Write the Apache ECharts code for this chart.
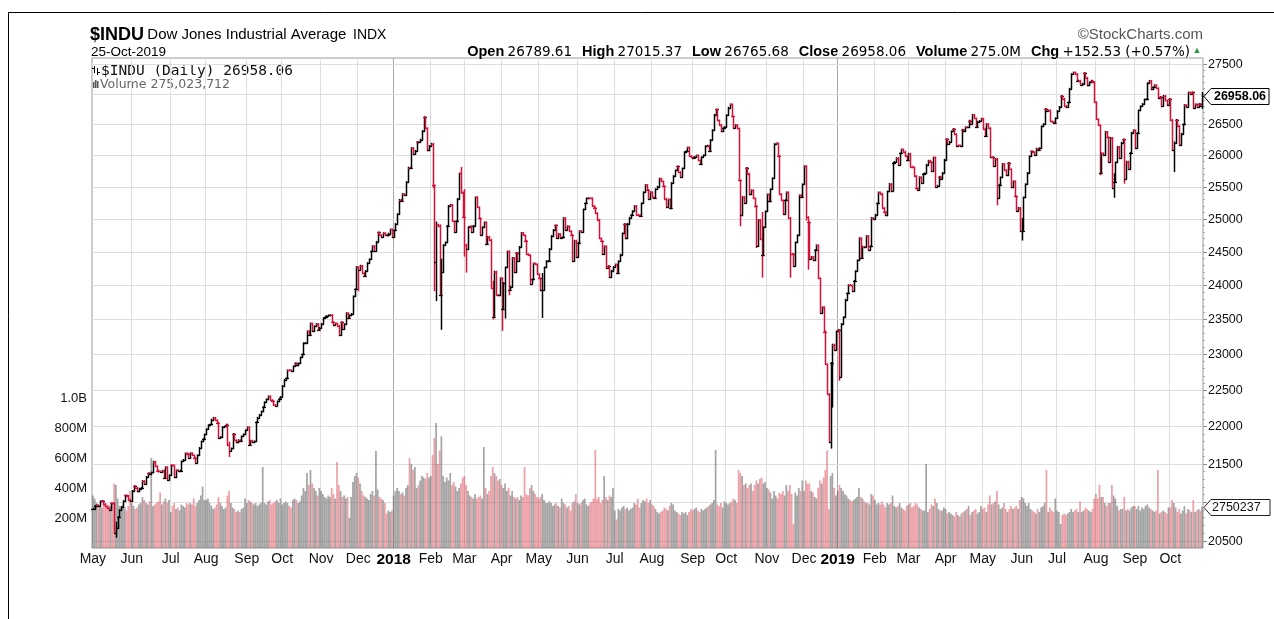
<!DOCTYPE html>
<html><head><meta charset="utf-8">
<script src="https://cdn.jsdelivr.net/npm/echarts@6/dist/echarts.min.js"></script>
<style>html,body{margin:0;padding:0;background:#fff;} #c{width:1274px;height:619px;}</style>
</head><body><div id="c"></div>
<script>
// ---------------- DATA ----------------
const startDate = '2017-05-01', endDate = '2019-10-25';
const holidays = ['2017-05-29','2017-07-04','2017-09-04','2017-11-23','2017-12-25','2018-01-01','2018-01-15','2018-02-19','2018-03-30','2018-05-28','2018-07-04','2018-09-03','2018-11-22','2018-12-05','2018-12-25','2019-01-01','2019-01-21','2019-02-18','2019-04-19','2019-05-27','2019-07-04','2019-09-02'];
const monthNames = ['Jan','Feb','Mar','Apr','May','Jun','Jul','Aug','Sep','Oct','Nov','Dec'];

// daily closes
const closes2017 = [
 20913,20950,20957,20951,21007,21013,20975,20943,20919,20897,20982,20980,20607,20663,20805,20895,20937,21012,21083,21080,21029,21009,
 21144,21206,21184,21136,21173,21182,21272,21236,21328,21374,21360,21384,21528,21467,21410,21397,21395,21409,21311,21454,21287,21350,
 21479,21478,21320,21414,21409,21409,21532,21553,21638,21630,21575,21641,21612,21580,21513,21613,21711,21797,21830,21891,
 21964,22016,22026,22093,22118,22085,22049,21844,21858,21993,21999,22025,21750,21674,21703,21900,21812,21783,21814,21808,21865,21892,21948,
 21988,21753,21808,21785,21798,22057,22119,22158,22203,22268,22331,22370,22412,22359,22350,22297,22284,22341,22381,22405,
 22557,22641,22661,22775,22774,22761,22831,22872,22841,22871,22957,22997,23158,23163,23329,23274,23441,23329,23400,23434,23349,23377,
 23436,23517,23539,23548,23557,23563,23462,23422,23440,23410,23272,23459,23358,23430,23591,23526,23558,23580,23836,23940,24272,
 24231,24290,24180,24140,24211,24329,24386,24504,24585,24509,24651,24792,24754,24726,24782,24754,24746,24775,24838,24719];
const closes2018 = [
 24824,24922,25075,25295,25283,25386,25369,25574,25803,25792,26116,26017,26071,26214,26210,26252,26392,26617,26439,26076,26149,
 26186,25521,24346,24913,24893,23860,24191,24601,24640,24893,25201,25219,24964,24798,24963,25310,25709,25410,25029,
 24608,24538,24875,24884,24801,24895,25336,25179,25008,24759,24873,24947,24611,24727,24683,23958,23533,24202,23857,23849,24103,
 23644,24033,24264,24505,23933,23979,24408,24190,24484,24360,24573,24787,24748,24665,24463,24448,24024,24084,24323,24311,24163,
 24099,23925,23930,24263,24358,24361,24542,24739,24831,24900,24707,24769,24713,24715,25013,24835,24886,24812,24753,24362,24668,24416,
 24635,24814,24799,25146,25241,25317,25322,25320,25201,25175,25090,24988,24701,24658,24462,24581,24252,24283,24117,24216,24271,
 24307,24175,24357,24456,24777,24920,24700,24925,25019,25064,25120,25199,25065,25058,25044,25242,25415,25528,25451,25307,25415,
 25333,25327,25463,25502,25629,25584,25509,25313,25188,25300,25162,25559,25669,25759,25822,25733,25656,25790,26050,26065,26124,25987,25965,
 25952,25975,25996,25917,25857,25971,25999,26145,26155,26062,26247,26406,26657,26743,26562,26492,26385,26440,26458,
 26651,26774,26828,26627,26447,26487,26431,25599,25053,25340,25251,25798,25706,25380,25444,25318,25191,24583,24985,24689,24443,24875,25116,
 25380,25270,25462,25635,26180,26191,25989,25387,25287,25081,25289,25413,25018,24466,24465,24286,24640,24749,25366,25339,25538,
 25826,25027,24947,24389,24423,24370,24527,24597,24101,23592,23676,23324,22860,22445,21792,22878,23138,23062,23327];
const closes2019 = [
 23346,22686,23433,23531,23787,23879,24001,23996,23910,24066,24207,24370,24706,24404,24576,24575,24738,24528,24580,25015,25000,
 25064,25239,25411,25391,25169,25106,25053,25426,25544,25439,25883,25892,25954,25851,26032,26092,26058,25986,25916,
 26026,25819,25807,25673,25473,25450,25651,25555,25703,25710,25849,25914,25887,25746,25963,25502,25517,25658,25626,25718,25929,
 26258,26180,26218,26385,26425,26341,26151,26157,26143,26412,26384,26453,26450,26560,26512,26656,26597,26462,26543,26555,26593,
 26430,26308,26505,26438,25965,25968,25828,25942,25325,25532,25648,25862,25764,25680,25877,25776,25490,25586,25348,25127,25170,24815,
 24820,25332,25540,25720,25984,26062,26049,26005,26107,26090,26112,26466,26504,26753,26720,26727,26548,26537,26526,26600,
 26718,26787,26966,26922,26806,26784,26860,27088,27332,27359,27336,27220,27223,27154,27172,27350,27270,27141,27192,27222,27199,26864,
 26583,26485,25718,26030,26008,26379,26287,25897,26280,25479,25579,25886,26136,25962,26202,26253,25629,25899,25778,26036,26363,26403,
 26118,26356,26728,26797,26835,26909,26910,27182,27220,27077,27111,27147,27095,26935,26950,26808,26970,26891,26820,26917,
 26573,26079,26201,26573,26478,26164,26347,26497,26817,26787,27024,26999,27026,26770,26828,26788,26834,26806,26958.06];

// notable intraday extremes [high, low]
const extremes = {
 '2017-05-17':[20950,20606],'2017-05-18':[20736,20553],'2017-08-10':[22050,21843],'2017-08-17':[22006,21750],
 '2017-08-18':[21782,21600],'2017-12-01':[24272,23921],'2018-02-02':[26062,25490],'2018-02-05':[25520,23923],
 '2018-02-06':[24946,23778],'2018-02-08':[24903,23849],'2018-02-09':[24382,23360],'2018-02-27':[25800,25400],
 '2018-03-01':[25449,24437],'2018-03-02':[24608,24198],'2018-03-23':[24050,23509],'2018-04-02':[24104,23344],
 '2018-04-04':[24264,23523],'2018-04-06':[24411,23863],'2018-05-03':[24166,23531],'2018-10-10':[26430,25599],
 '2018-10-11':[25581,24899],'2018-10-24':[25200,24568],'2018-10-29':[25093,24123],'2018-11-20':[24581,24123],
 '2018-12-04':[25681,24986],'2018-12-06':[24947,24242],'2018-12-26':[22878,21712],'2018-12-27':[23138,22267],
 '2019-01-03':[23176,22638],'2019-05-13':[25655,25222],'2019-06-03':[25000,24680],'2019-08-05':[26154,25693],
 '2019-08-15':[25700,25339],'2019-08-23':[26224,25560],'2019-10-03':[26209,25743],'2019-10-25':[27015.37,26765.68]
};

// daily volume, millions of shares
const volumes2017 = [
 350,330,300,290,280,270,290,300,280,290,280,300,430,420,330,280,270,290,270,250,280,380,
 300,280,260,270,290,300,340,320,300,290,310,600,280,290,300,310,370,290,310,330,300,320,
 240,280,300,260,270,250,290,280,270,300,290,300,290,330,280,300,320,350,410,320,
 320,330,300,280,260,270,290,340,300,280,260,270,350,380,300,270,260,240,250,240,260,270,330,
 300,320,310,300,290,300,280,290,300,540,300,290,310,320,290,300,310,320,300,330,
 290,300,310,300,280,270,320,330,320,300,310,350,400,380,500,420,520,430,400,380,350,400,
 380,360,340,330,350,340,400,360,330,573,420,380,340,350,330,340,200,340,440,480,500,
 470,430,380,350,340,330,320,360,380,350,647,390,340,330,320,300,230,250,240,250];
const volumes2018 = [
 350,380,400,380,360,370,350,400,420,600,560,520,540,400,420,450,480,470,460,500,470,
 480,620,733,833,560,650,745,480,440,470,450,500,420,440,410,380,400,430,470,
 480,420,380,350,340,330,360,330,340,350,330,673,400,360,380,480,540,500,480,450,460,
 420,400,430,380,400,350,380,340,330,340,320,350,340,540,360,350,400,420,380,360,340,
 330,340,360,320,300,300,310,300,280,290,300,280,270,330,300,290,270,280,250,300,310,360,
 300,290,300,320,330,290,280,300,310,330,653,330,340,300,320,480,340,320,350,340,400,
 250,190,260,250,270,280,260,270,250,260,270,300,290,330,270,300,320,310,330,300,320,
 290,280,260,240,230,240,250,270,260,250,280,300,290,250,240,230,220,240,230,240,220,240,260,
 250,260,270,250,240,260,250,260,270,280,290,300,320,653,290,280,300,270,310,
 300,290,300,310,330,320,300,520,500,480,420,430,400,420,430,380,420,450,430,460,470,430,440,
 400,390,370,330,380,350,330,370,360,380,350,420,380,420,360,160,370,350,400,380,450,
 380,450,430,430,380,370,340,330,400,450,430,470,520,650,260,480,500,400,350];
const volumes2019 = [
 380,420,400,380,360,350,330,320,310,320,330,340,400,340,330,310,300,300,290,360,350,
 320,290,300,290,310,290,270,300,290,300,350,280,270,280,300,270,260,250,280,
 290,300,270,280,300,290,270,260,250,250,560,240,260,290,280,330,300,260,250,250,270,
 260,230,240,230,220,210,240,220,210,230,240,250,260,280,220,240,250,260,230,240,280,
 260,270,240,290,350,290,300,310,380,290,260,270,300,260,240,260,280,260,270,280,260,320,
 340,330,300,280,300,260,250,240,230,260,240,270,280,300,520,240,270,250,240,330,
 250,240,160,220,230,220,230,240,260,240,250,260,240,310,240,250,270,260,250,240,260,330,
 360,330,420,340,340,300,280,300,300,420,350,330,280,250,260,260,340,250,260,250,270,280,
 280,260,280,250,270,260,280,290,270,260,250,240,250,520,230,240,250,240,230,270,
 270,320,300,270,240,260,230,250,280,230,260,250,240,320,240,250,260,250,275];

// axis ticks
const priceGridTicks = [20500,21000,21500,22000,22500,23000,23500,24000,24500,25000,25500,26000,26500,27000,27500];
const priceLabelTicks = [20500,21500,22000,22500,23000,23500,24000,24500,25000,25500,26000,26500,27500];
const priceAxisRange = [20412, 27604];
const volumeAxisMax = 3266.67;
const volumeLabels = {200:'200M',400:'400M',600:'600M',800:'800M',1000:'1.0B'};

// texts
const hdr = {sym:'$INDU', name:'Dow Jones Industrial Average', exch:'INDX', date:'25-Oct-2019',
  open:'26789.61', high:'27015.37', low:'26765.68', close:'26958.06', vol:'275.0M', chg:'+152.53 (+0.57%)',
  credit:'\u00A9StockCharts.com', legend1:'$INDU (Daily) 26958.06', legend2:'Volume 275,023,712',
  priceBox:'26958.06', volBox:'2750237'};

// ---------------- BUILD ----------------
function tradingDays(s, e) {
  const out = []; let d = new Date(s + 'T00:00:00Z'); const end = new Date(e + 'T00:00:00Z');
  while (d <= end) { const w = d.getUTCDay(); const k = d.toISOString().slice(0,10);
    if (w !== 0 && w !== 6 && holidays.indexOf(k) < 0) out.push(k);
    d = new Date(d.getTime() + 86400000); }
  return out;
}
const dates = tradingDays(startDate, endDate);
const closes = closes2017.concat(closes2018, closes2019);
const volumes = volumes2017.concat(volumes2018, volumes2019);

const UP = '#000000', DOWN = '#d8103a';
const ohlc = [], volData = [];
for (let i = 0; i < dates.length; i++) {
  const c = closes[i];
  const o = i === 0 ? c : closes[i - 1];
  let h = Math.max(o, c), l = Math.min(o, c);
  const ex = extremes[dates[i]];
  if (ex) { h = Math.max(h, ex[0]); l = Math.min(l, ex[1]); }
  const up = i === 0 ? 1 : (c >= closes[i - 1] ? 1 : 0);
  ohlc.push([i, Math.log(o), Math.log(h), Math.log(l), Math.log(c), up]);
  volData.push({value: volumes[i], itemStyle: {color: up ? 'rgba(110,110,110,0.62)' : 'rgba(218,70,82,0.5)'}});
}
const monthStarts = [];
for (let i = 0; i < dates.length; i++) {
  if (i === 0 || dates[i].slice(5,7) !== dates[i-1].slice(5,7)) monthStarts.push(i);
}
const monthStartSet = new Set(monthStarts);
const lnMin = Math.log(priceAxisRange[0]), lnMax = Math.log(priceAxisRange[1]);
const minorTicks = [];
for (let p = 20600; p < 27600; p += 100) if (p % 500 !== 0) minorTicks.push(p);

const chart = echarts.init(document.getElementById('c'), null, {renderer: 'canvas'});
const FONT = 'Arial, "Liberation Sans", sans-serif';

const option = {
  animation: false,
  backgroundColor: '#fff',
  grid: {left: 92, right: 71, top: 58, bottom: 71, show: true, borderColor: '#9a9a9a', borderWidth: 1, backgroundColor: 'transparent'},
  xAxis: {
    type: 'category', data: dates, boundaryGap: true,
    axisLine: {show: false}, axisTick: {show: false}, splitLine: {show: false},
    axisLabel: {
      interval: (idx) => monthStartSet.has(idx), margin: 4,
      fontFamily: FONT, fontSize: 14, color: '#111',
      formatter: (v) => { const m = +v.slice(5,7); return m === 1 ? '{y|' + v.slice(0,4) + '}' : monthNames[m-1]; },
      rich: {y: {fontFamily: FONT, fontWeight: 'bold', fontSize: 15.5, color: '#000'}}
    }
  },
  yAxis: [
    {type: 'value', min: lnMin, max: lnMax, show: false},
    {type: 'value', min: 0, max: volumeAxisMax, interval: 200, position: 'left',
     axisLine: {show: false}, axisTick: {show: false}, splitLine: {show: false},
     axisLabel: {formatter: (v) => volumeLabels[Math.round(v)] || '', fontFamily: FONT, fontSize: 13, color: '#111', margin: 5}}
  ],
  series: [
    { // vertical month gridlines
      type: 'custom', z: 1, silent: true, clip: false,
      data: monthStarts.map(i => [i, lnMin, dates[i].slice(5,7) === '01' ? 1 : 0]),
      renderItem: (params, api) => {
        const cs = params.coordSys; const c = api.coord([api.value(0), api.value(1)]);
        const bw = api.size([1, 0])[0]; const x = Math.round(c[0] - bw / 2) + 0.5;
        if (x < cs.x + 1) return null;
        return {type: 'line', shape: {x1: x, y1: cs.y, x2: x, y2: cs.y + cs.height},
          style: {stroke: api.value(2) ? '#a8a8a8' : '#dedede', lineWidth: 1}};
      }
    },
    { // horizontal price gridlines, ticks and labels (log scale)
      type: 'custom', z: 1, silent: true, clip: false,
      data: priceGridTicks.map(p => [0, Math.log(p), p]),
      renderItem: (params, api) => {
        const cs = params.coordSys; const y = Math.round(api.coord([0, api.value(1)])[1]) + 0.5;
        const p = api.value(2); const right = cs.x + cs.width;
        const ch = [
          {type: 'line', shape: {x1: cs.x, y1: y, x2: right, y2: y}, style: {stroke: '#dedede', lineWidth: 1}},
          {type: 'line', shape: {x1: right, y1: y, x2: right + 4, y2: y}, style: {stroke: '#888', lineWidth: 1}}
        ];
        if (priceLabelTicks.indexOf(p) >= 0) ch.push({type: 'text', x: right + 5, y: y,
          style: {text: String(p), font: '12.5px ' + FONT, fill: '#111', align: 'left', verticalAlign: 'middle'}});
        return {type: 'group', children: ch};
      }
    },
    { // minor ticks on price axis
      type: 'custom', z: 1, silent: true, clip: false,
      data: minorTicks.map(p => [0, Math.log(p)]),
      renderItem: (params, api) => {
        const cs = params.coordSys; const y = Math.round(api.coord([0, api.value(1)])[1]) + 0.5;
        const right = cs.x + cs.width;
        return {type: 'line', shape: {x1: right, y1: y, x2: right + 2, y2: y}, style: {stroke: '#aaa', lineWidth: 1}};
      }
    },
    { // volume
      type: 'bar', yAxisIndex: 1, z: 2, silent: true, data: volData, barCategoryGap: '2%'
    },
    { // OHLC bars
      type: 'custom', z: 3, silent: true,
      encode: {x: 0, y: [1, 2, 3, 4]},
      data: ohlc,
      renderItem: (params, api) => {
        const i = api.value(0);
        const o = api.coord([i, api.value(1)]), h = api.coord([i, api.value(2)]);
        const l = api.coord([i, api.value(3)]), c = api.coord([i, api.value(4)]);
        const x = Math.round(o[0]) + 0.5;
        const col = api.value(5) ? UP : DOWN;
        let y1 = h[1] - 0.8, y2 = l[1] + 0.8;
        return {type: 'group', children: [
          {type: 'line', shape: {x1: x, y1: y1, x2: x, y2: y2}, style: {stroke: col, lineWidth: 1.5}},
          {type: 'line', shape: {x1: x - 2.5, y1: Math.round(o[1]) + 0.5, x2: x, y2: Math.round(o[1]) + 0.5}, style: {stroke: col, lineWidth: 1.2}},
          {type: 'line', shape: {x1: x, y1: Math.round(c[1]) + 0.5, x2: x + 2.5, y2: Math.round(c[1]) + 0.5}, style: {stroke: col, lineWidth: 1.2}}
        ]};
      }
    },
    { // last price box
      type: 'custom', z: 5, silent: true, clip: false,
      data: [[dates.length - 1, Math.log(closes[closes.length - 1])]],
      renderItem: (params, api) => {
        const cs = params.coordSys; const y = Math.round(api.coord([api.value(0), api.value(1)])[1]) + 0.5;
        const x0 = cs.x + cs.width + 1;
        return {type: 'group', children: [
          {type: 'polygon', shape: {points: [[x0, y], [x0 + 7, y - 8], [x0 + 65, y - 8], [x0 + 65, y + 8], [x0 + 7, y + 8]]},
           style: {fill: '#fff', stroke: '#000', lineWidth: 1}},
          {type: 'text', x: x0 + 36, y: y, style: {text: hdr.priceBox, font: 'bold 12.5px ' + FONT, fill: '#000', align: 'center', verticalAlign: 'middle'}}
        ]};
      }
    },
    { // last volume box
      type: 'custom', z: 5, silent: true, clip: false, yAxisIndex: 1,
      data: [[dates.length - 1, volumes[volumes.length - 1]]],
      renderItem: (params, api) => {
        const cs = params.coordSys; const y = Math.round(api.coord([api.value(0), api.value(1)])[1]) + 0.5;
        const x0 = cs.x + cs.width + 1;
        return {type: 'group', children: [
          {type: 'polygon', shape: {points: [[x0, y], [x0 + 7, y - 8], [x0 + 66, y - 8], [x0 + 66, y + 8], [x0 + 7, y + 8]]},
           style: {fill: '#fff', stroke: '#222', lineWidth: 1}},
          {type: 'text', x: x0 + 8, y: y, style: {text: hdr.volBox, font: '12.5px ' + FONT, fill: '#111', align: 'left', verticalAlign: 'middle'}}
        ]};
      }
    }
  ],
  graphic: [
    {type: 'polyline', silent: true, shape: {points: [[8.5, 619], [8.5, 12.5], [1274, 12.5]]}, style: {stroke: '#000', lineWidth: 1, fill: null}},
    {type: 'text', x: 90, y: 35, silent: true, style: {
      text: '{a|' + hdr.sym + '} {b|' + hdr.name + '}  {c|' + hdr.exch + '}', verticalAlign: 'middle', align: 'left',
      rich: {a: {font: 'bold 18px ' + FONT, fill: '#000'}, b: {font: '15px ' + FONT, fill: '#000'}, c: {font: '14px ' + FONT, fill: '#000'}}}},
    {type: 'text', x: 91, y: 52, silent: true, style: {text: hdr.date, font: '13.5px ' + FONT, fill: '#000', verticalAlign: 'middle', align: 'left'}},
    {type: 'text', x: 1203, y: 35, silent: true, style: {text: hdr.credit, font: '15px ' + FONT, fill: '#555', verticalAlign: 'middle', align: 'right'}},
    {type: 'text', x: 1190, y: 52, silent: true, style: {
      text: '{b|Open} {v|' + hdr.open + '}   {b|High} {v|' + hdr.high + '}   {b|Low} {v|' + hdr.low + '}   {b|Close} {v|' + hdr.close + '}   {b|Volume} {v|' + hdr.vol + '}   {b|Chg} {v|' + hdr.chg + '}',
      verticalAlign: 'middle', align: 'right',
      rich: {b: {font: 'bold 14.5px ' + FONT, fill: '#000'}, v: {font: '13.5px "DejaVu Sans", sans-serif', fill: '#000'}}}},
    {type: 'text', x: 1197, y: 51, silent: true, style: {text: '\u25B2', font: '9px ' + FONT, fill: '#2a9a3a', verticalAlign: 'middle', align: 'center'}},
    // legend icons
    {type: 'line', silent: true, shape: {x1: 94.5, y1: 66, x2: 94.5, y2: 73}, style: {stroke: '#000', lineWidth: 1}},
    {type: 'line', silent: true, shape: {x1: 92, y1: 68.5, x2: 94.5, y2: 68.5}, style: {stroke: '#000', lineWidth: 1}},
    {type: 'line', silent: true, shape: {x1: 97.5, y1: 68, x2: 97.5, y2: 75}, style: {stroke: '#000', lineWidth: 1}},
    {type: 'line', silent: true, shape: {x1: 97.5, y1: 72.5, x2: 100, y2: 72.5}, style: {stroke: '#000', lineWidth: 1}},
    {type: 'text', x: 101, y: 71, silent: true, style: {text: hdr.legend1, font: '14.5px "DejaVu Sans Mono", monospace', fill: '#111', verticalAlign: 'middle', align: 'left'}},
    {type: 'rect', silent: true, shape: {x: 93, y: 82, width: 1.5, height: 6}, style: {fill: '#555'}},
    {type: 'rect', silent: true, shape: {x: 95, y: 80, width: 1.5, height: 8}, style: {fill: '#555'}},
    {type: 'rect', silent: true, shape: {x: 97, y: 81, width: 1.5, height: 7}, style: {fill: '#555'}},
    {type: 'text', x: 100, y: 85, silent: true, style: {text: hdr.legend2, font: '12.5px "DejaVu Sans", sans-serif', fill: '#666', verticalAlign: 'middle', align: 'left'}}
  ]
};
chart.setOption(option);
</script></body></html>
